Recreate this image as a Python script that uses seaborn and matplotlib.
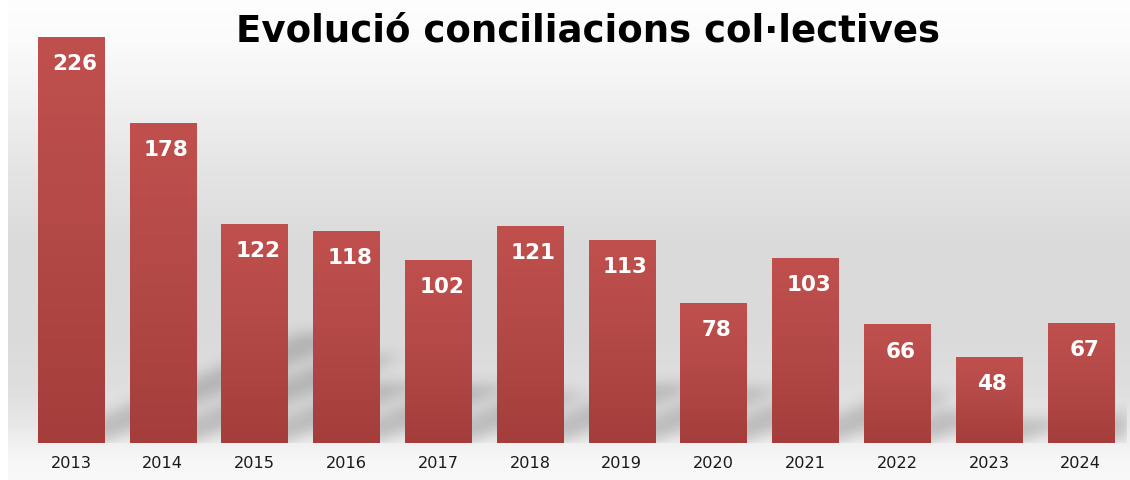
import numpy as np
import pandas as pd
import matplotlib
matplotlib.use("Agg")
import matplotlib.pyplot as plt
from matplotlib.colors import LinearSegmentedColormap
import seaborn as sns

# Data
years = ["2013", "2014", "2015", "2016", "2017", "2018",
         "2019", "2020", "2021", "2022", "2023", "2024"]
counts = [226, 178, 122, 118, 102, 121, 113, 78, 103, 66, 48, 67]
title = "Evolució conciliacions col·lectives"

df = pd.DataFrame({"year": years, "count": counts})

sns.set_theme(style="white")
plt.rcParams["font.family"] = ["DejaVu Sans"]

W, H, DPI = 1130, 480, 100
fig = plt.figure(figsize=(W / DPI, H / DPI), dpi=DPI)
fig.patch.set_facecolor("white")

# Background gradient (whole chart area)
bg_w = W - 8
bg = fig.add_axes([8 / W, 0, bg_w / W, 1], zorder=0)
stops_y = np.array([0, 40, 100, 170, 240, 330, 390, 425, 443, 460, 480])
stops_v = np.array([0.995, 0.985, 0.945, 0.895, 0.858, 0.855, 0.875, 0.91, 0.945, 0.97, 0.975])
rows = np.interp(np.arange(H), stops_y, stops_v)
bg_img = np.repeat(rows[:, None], bg_w, axis=1)
bg.imshow(np.dstack([bg_img, bg_img, bg_img]), aspect="auto", extent=[0, 1, 1, 0],
          interpolation="nearest")
bg.set_axis_off()

# Main axes geometry
base_px = 443
px_per_unit = 406 / 226
left_px = 25
axw_px = 1101.6
top_px = 10
ytop = (base_px - top_px) / px_per_unit
ax = fig.add_axes([left_px / W, (H - base_px) / H, axw_px / W, (base_px - top_px) / H], zorder=1)
ax.patch.set_alpha(0)

sns.barplot(data=df, x="year", y="count", color="#b5474a", width=0.72, ax=ax, zorder=3)
ax.set_xlim(-0.5, len(years) - 0.5)
ax.set_ylim(0, ytop)

# Soft floor shadows
nx, ny = 1102, 433
xs = np.linspace(-0.5, len(years) - 0.5, nx)
ys = np.linspace(0, ytop, ny)
X, Y = np.meshgrid(xs, ys)
px_x = axw_px / len(years)
k = 2.4 * px_per_unit / px_x
mask = np.zeros_like(X)
for i, v in enumerate(counts):
    inside = (Y <= 0.27 * v) & (X >= i - 0.36 + k * Y) & (X <= i + 0.36 + k * Y)
    mask[inside] = 1.0


def blur(a, s, axis):
    r = int(3 * s)
    kern = np.exp(-0.5 * (np.arange(-r, r + 1) / s) ** 2)
    kern /= kern.sum()
    return np.apply_along_axis(lambda m: np.convolve(m, kern, mode="same"), axis, a)


mask = blur(blur(mask, 7, 1), 7, 0)
mask[mask < 1e-3] = 0
rgba = np.zeros((ny, nx, 4))
rgba[..., 3] = mask * 0.19
ax.imshow(rgba, extent=[xs[0], xs[-1], 0, ytop], origin="lower", aspect="auto", zorder=1,
          interpolation="nearest")

# Gradient fill of each bar
grad_cmap = LinearSegmentedColormap.from_list("bar", ["#a43d3b", "#b34947", "#c0504e"])
grad = np.linspace(0, 1, 256)[:, None]
for p in ax.patches:
    x0, y0 = p.get_x(), p.get_y()
    w, h = p.get_width(), p.get_height()
    im = ax.imshow(grad, cmap=grad_cmap, extent=[x0, x0 + w, y0, y0 + h], origin="lower",
                   aspect="auto", zorder=3, interpolation="bilinear")
    im.set_clip_path(p)
    p.set_facecolor("none")
    p.set_edgecolor("none")
ax.set_xlim(-0.5, len(years) - 0.5)
ax.set_ylim(0, ytop)

for i, v in enumerate(counts):
    ax.annotate(str(v), (i, v), xytext=(2.5, -19.5), textcoords="offset points",
                ha="center", va="center", color="white", fontsize=15.5, fontweight="bold", zorder=5)

ax.set_xlabel("")
ax.set_ylabel("")
ax.set_yticks([])
ax.tick_params(axis="x", length=0, pad=9, labelsize=11.6, labelcolor="#1a1a1a")
sns.despine(ax=ax, left=True, bottom=True)

fig.text(588 / W, 1 - 31 / H, title, ha="center", va="center", fontsize=26.7,
         fontweight="bold", color="black", zorder=5)

fig.savefig("out.png", dpi=DPI)
